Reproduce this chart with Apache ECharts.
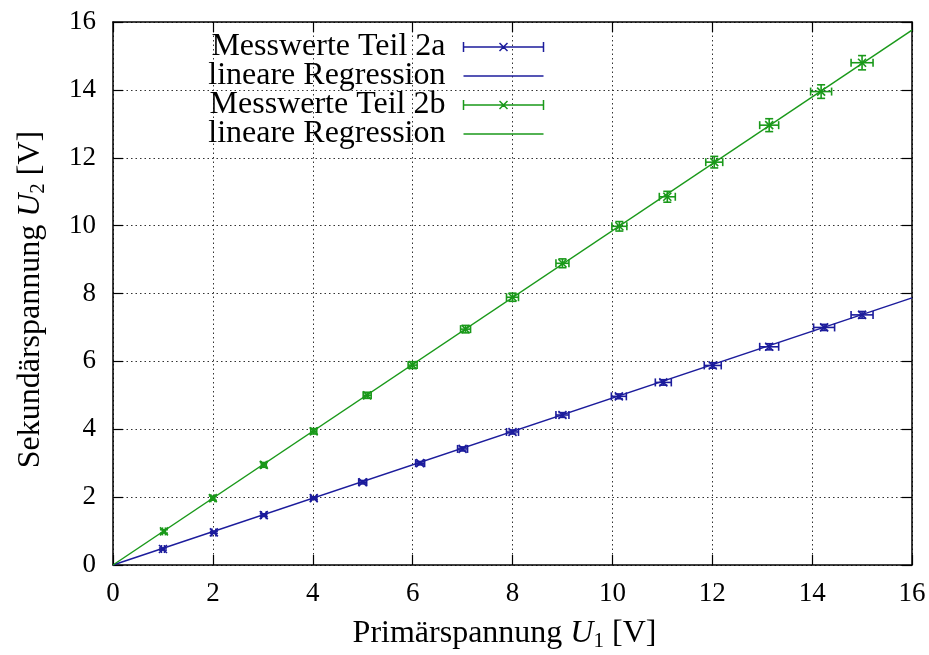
<!DOCTYPE html>
<html>
<head>
<meta charset="utf-8">
<script src="https://cdn.jsdelivr.net/npm/echarts@6/dist/echarts.min.js"></script>
<style>
  html, body { margin: 0; padding: 0; background: #fff; }
  #chart { width: 929px; height: 655px; }
</style>
</head>
<body>
<div id="chart"></div>
<script>
// Messwerte Teil 2a
var xA  = [1.0, 2.02, 3.02, 4.02, 5.0, 6.15, 7.0, 8.0, 9.0, 10.13, 11.02, 12.01, 13.14, 14.24, 15.0];
var yA  = [0.47, 0.96, 1.47, 1.97, 2.44, 3.0, 3.42, 3.92, 4.42, 4.97, 5.38, 5.88, 6.43, 7.0, 7.37];
var exA = [0.03, 0.04, 0.05, 0.06, 0.08, 0.09, 0.1, 0.12, 0.13, 0.15, 0.16, 0.17, 0.19, 0.21, 0.22];
var eyA = [0.03, 0.03, 0.04, 0.04, 0.05, 0.05, 0.06, 0.06, 0.07, 0.07, 0.08, 0.08, 0.09, 0.09, 0.1];
// Messwerte Teil 2b
var xB  = [1.02, 2.0, 3.02, 4.02, 5.09, 6.0, 7.06, 8.0, 9.0, 10.14, 11.1, 12.04, 13.14, 14.18, 15.0];
var yB  = [0.99, 1.97, 2.95, 3.94, 5.0, 5.89, 6.95, 7.89, 8.89, 9.98, 10.85, 11.87, 12.96, 13.95, 14.8];
var exB = [0.03, 0.04, 0.05, 0.06, 0.08, 0.09, 0.1, 0.12, 0.13, 0.15, 0.16, 0.17, 0.19, 0.21, 0.22];
var eyB = [0.05, 0.06, 0.07, 0.08, 0.09, 0.1, 0.11, 0.12, 0.13, 0.14, 0.16, 0.17, 0.19, 0.2, 0.21];
// lineare Regression (Endpunkte)
var regA = [[0, 0], [16, 7.87]];
var regB = [[0, 0], [16, 15.76]];

var blue = '#1c1c9c';
var green = '#1a991a';
var font = 'Liberation Serif';

function zip(x, y, ex, ey) {
    return x.map(function (v, i) { return [v, y[i], ex[i], ey[i]]; });
}

function renderErr(params, api) {
    var x = api.value(0), y = api.value(1), ex = api.value(2), ey = api.value(3);
    var c = api.coord([x, y]);
    var l = api.coord([x - ex, y]), r = api.coord([x + ex, y]);
    var t = api.coord([x, y + ey]), b = api.coord([x, y - ey]);
    var cap = 4, m = 4;
    var st = { stroke: api.visual('color'), lineWidth: 1.6, fill: null };
    function ln(x1, y1, x2, y2) {
        return { type: 'line', shape: { x1: x1, y1: y1, x2: x2, y2: y2 }, style: st };
    }
    return {
        type: 'group',
        children: [
            ln(l[0], c[1], r[0], c[1]),
            ln(l[0], c[1] - cap, l[0], c[1] + cap),
            ln(r[0], c[1] - cap, r[0], c[1] + cap),
            ln(c[0], t[1], c[0], b[1]),
            ln(c[0] - cap, t[1], c[0] + cap, t[1]),
            ln(c[0] - cap, b[1], c[0] + cap, b[1]),
            ln(c[0] - m, c[1] - m, c[0] + m, c[1] + m),
            ln(c[0] - m, c[1] + m, c[0] + m, c[1] - m)
        ]
    };
}

// legend samples: error bar with cross, and a plain line (zero-length stubs keep the box height)
var errIcon = 'path://M0,5 L80,5 M0,0 L0,10 M80,0 L80,10 M36,1 L44,9 M44,1 L36,9';
var lineIcon = 'path://M0,5 L80,5 M0,0 L0,0 M0,10 L0,10';

var myChart = echarts.init(document.getElementById('chart'));

var rich = {
    n: { fontFamily: font, fontSize: 32, lineHeight: 36, color: '#000' },
    i: { fontFamily: font, fontSize: 32, lineHeight: 36, fontStyle: 'italic', color: '#000' },
    s: { fontFamily: font, fontSize: 21, lineHeight: 22, verticalAlign: 'bottom', color: '#000' }
};

var option = {
    backgroundColor: '#fff',
    animation: false,
    grid: { left: 113, top: 22, right: 17, bottom: 90, outerBoundsMode: 'none', containLabel: false },
    legend: {
        orient: 'vertical',
        align: 'right',
        right: 383,
        top: 31,
        padding: 0,
        itemGap: -3,
        itemWidth: 80,
        itemHeight: 10,
        selectedMode: false,
        formatter: function (name) { return name.trim(); },
        textStyle: {
            fontFamily: font,
            fontSize: 32,
            color: '#000',
            padding: [0, 13, 0, 0]
        },
        data: [
            { name: 'Messwerte Teil 2a', icon: errIcon, itemStyle: { color: 'none', borderColor: blue, borderWidth: 1.5 } },
            { name: 'lineare Regression', icon: lineIcon, itemStyle: { color: 'none', borderColor: blue, borderWidth: 1.5 } },
            { name: 'Messwerte Teil 2b', icon: errIcon, itemStyle: { color: 'none', borderColor: green, borderWidth: 1.5 } },
            { name: 'lineare Regression ', icon: lineIcon, itemStyle: { color: 'none', borderColor: green, borderWidth: 1.5 } }
        ]
    },
    xAxis: [{
        type: 'value',
        min: 0, max: 16, interval: 2,
        name: '{n|Primärspannung }{i|U}{s|1}{n| [V]}',
        nameLocation: 'middle',
        nameGap: 51,
        nameTextStyle: { fontFamily: font, color: '#000', rich: rich, padding: [0, 16, 0, 0] },
        axisLine: { show: true, onZero: false, lineStyle: { color: '#000', width: 1.5 } },
        axisTick: { show: true, inside: true, length: 10, lineStyle: { color: '#000', width: 1.2 } },
        axisLabel: { fontFamily: font, fontSize: 27, color: '#000', margin: 15 },
        splitLine: { show: true, lineStyle: { color: '#333', width: 1, type: [1.5, 3] } }
    }, {
        type: 'value',
        position: 'top',
        min: 0, max: 16, interval: 2,
        axisLine: { show: true, onZero: false, lineStyle: { color: '#000', width: 1.5 } },
        axisTick: { show: true, inside: true, length: 10, lineStyle: { color: '#000', width: 1.2 } },
        axisLabel: { show: false },
        splitLine: { show: false }
    }],
    yAxis: [{
        type: 'value',
        min: 0, max: 16, interval: 2,
        name: '{n|Sekundärspannung }{i|U}{s|2}{n| [V]}',
        nameLocation: 'middle',
        nameGap: 64,
        nameTextStyle: { fontFamily: font, color: '#000', rich: rich, padding: [0, 12, 0, 0] },
        axisLine: { show: true, onZero: false, lineStyle: { color: '#000', width: 1.5 } },
        axisTick: { show: true, inside: true, length: 10, lineStyle: { color: '#000', width: 1.2 } },
        axisLabel: { fontFamily: font, fontSize: 27, color: '#000', margin: 17 },
        splitLine: { show: true, lineStyle: { color: '#333', width: 1, type: [1.5, 3] } }
    }, {
        type: 'value',
        position: 'right',
        min: 0, max: 16, interval: 2,
        axisLine: { show: true, onZero: false, lineStyle: { color: '#000', width: 1.5 } },
        axisTick: { show: true, inside: true, length: 10, lineStyle: { color: '#000', width: 1.2 } },
        axisLabel: { show: false },
        splitLine: { show: false }
    }],
    series: [
        {
            name: 'Messwerte Teil 2a',
            type: 'custom',
            renderItem: renderErr,
            itemStyle: { color: blue },
            encode: { x: 0, y: 1 },
            data: zip(xA, yA, exA, eyA),
            z: 3
        },
        {
            name: 'lineare Regression',
            type: 'line',
            showSymbol: false,
            symbol: 'none',
            lineStyle: { color: blue, width: 1.5 },
            itemStyle: { color: blue },
            data: regA,
            z: 2
        },
        {
            name: 'Messwerte Teil 2b',
            type: 'custom',
            renderItem: renderErr,
            itemStyle: { color: green },
            encode: { x: 0, y: 1 },
            data: zip(xB, yB, exB, eyB),
            z: 3
        },
        {
            name: 'lineare Regression ',
            type: 'line',
            showSymbol: false,
            symbol: 'none',
            lineStyle: { color: green, width: 1.5 },
            itemStyle: { color: green },
            data: regB,
            z: 2
        }
    ]
};
myChart.setOption(option);
</script>
</body>
</html>
